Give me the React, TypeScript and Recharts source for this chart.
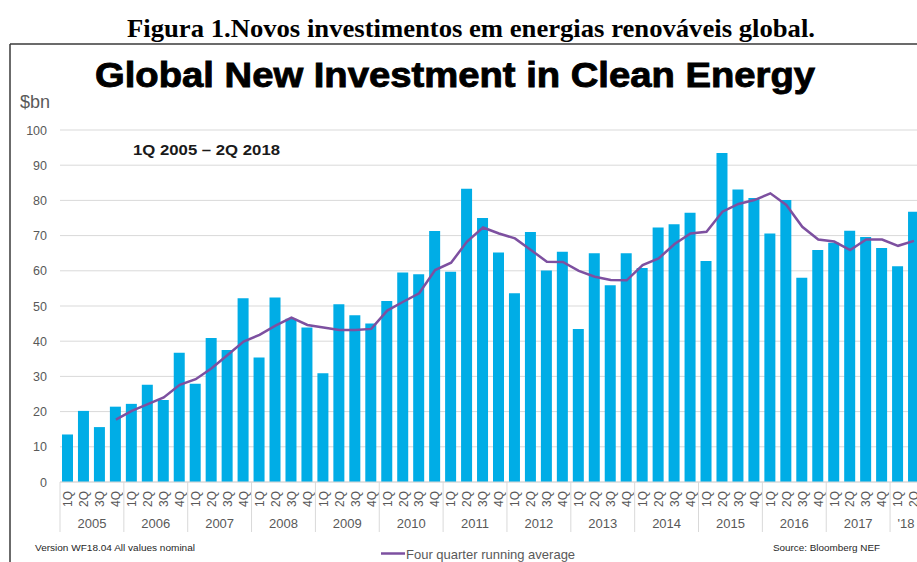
import React from "react";
import { ComposedChart, Bar, Line, XAxis, YAxis, CartesianGrid } from "recharts";

const YEARS = ["2005", "2006", "2007", "2008", "2009", "2010", "2011", "2012", "2013", "2014", "2015", "2016", "2017", "'18"];
const QUARTERS = ["1Q", "2Q", "3Q", "4Q"];
const INVESTMENT = [
  13.5, 20.2, 15.6, 21.4,
  22.2, 27.6, 23.3, 36.7,
  27.9, 40.9, 37.5, 52.2,
  35.4, 52.4, 46.4, 43.9,
  30.9, 50.5, 47.4, 45.0,
  51.4, 59.5, 59.0, 71.3,
  59.7, 83.3, 75.0, 65.2,
  53.6, 71.0, 60.1, 65.4,
  43.5, 65.0, 55.9, 65.0,
  60.8, 72.3, 73.2, 76.5,
  62.8, 93.5, 83.1, 80.7,
  70.6, 80.1, 58.0, 65.9,
  68.0, 71.4, 69.6, 66.5,
  61.3, 76.8,
];
const RUNNING_AVG = [
  null, null, null, 17.7,
  20.2, 22.1, 24.0, 27.6,
  29.2, 32.3, 36.1, 39.9,
  41.8, 44.4, 46.7, 44.6,
  43.9, 43.2, 43.2, 43.5,
  48.7, 51.2, 53.6, 60.2,
  62.3, 68.3, 72.3, 70.6,
  69.2, 65.9, 62.6, 62.5,
  60.0, 58.3, 57.4, 57.3,
  61.6, 63.5, 67.6, 70.6,
  71.1, 76.8, 79.0, 80.1,
  82.0, 78.7, 72.5, 68.9,
  68.3, 65.9, 68.9, 68.9,
  67.1, 68.5,
];
const Y_TICKS = [0, 10, 20, 30, 40, 50, 60, 70, 80, 90, 100];

const data = INVESTMENT.map((v, i) => ({
  key: `${YEARS[Math.floor(i / 4)]}-${QUARTERS[i % 4]}`,
  quarter: QUARTERS[i % 4],
  year: YEARS[Math.floor(i / 4)],
  investment: v,
  avg: RUNNING_AVG[i],
}));

const FONT = "'Liberation Sans', Arial, Helvetica, sans-serif";
const GRAY = "#595959";
const CHART_W = 922;
const CHART_H = 562;
const Y_AXIS_W = 60;
const BAND = (CHART_W - Y_AXIS_W) / data.length;

const QuarterTick = (props: any) => {
  const { x, y, payload } = props;
  const i = payload.index;
  const d = data[i];
  if (!d) return null;
  const isFirst = i % 4 === 0;
  const quartersInYear = data.filter((e) => e.year === d.year).length;
  return (
    <g>
      <text
        transform={`translate(${x + 4.3}, ${y + 9}) rotate(-90)`}
        textAnchor="end"
        fontSize={12}
        fontFamily={FONT}
        fill={GRAY}
      >
        {d.quarter}
      </text>
      {isFirst && (
        <>
          <line x1={x - BAND / 2} x2={x - BAND / 2} y1={y} y2={y + 50} stroke="#d9d9d9" strokeWidth={1} />
          <text
            x={x + ((quartersInYear - 1) * BAND) / 2}
            y={y + 46}
            textAnchor="middle"
            fontSize={13}
            fontFamily={FONT}
            fill={GRAY}
          >
            {d.year}
          </text>
        </>
      )}
    </g>
  );
};

const ValueTick = (props: any) => {
  const { x, y, payload } = props;
  return (
    <text x={x} y={y + 4.5} textAnchor="end" fontSize={12.5} fontFamily={FONT} fill={GRAY}>
      {payload.value}
    </text>
  );
};

export default function App() {
  return (
    <div
      style={{
        position: "fixed",
        left: 0,
        top: 0,
        width: 917,
        height: 562,
        overflow: "hidden",
        background: "#ffffff",
      }}
    >
      <div style={{ position: "absolute", left: 0, top: 0 }}>
        <ComposedChart
          width={CHART_W}
          height={CHART_H}
          data={data}
          margin={{ top: 130, right: 0, bottom: 0, left: 0 }}
          barSize={11}
        >
          <CartesianGrid vertical={false} stroke="#d9d9d9" strokeWidth={1} />
          <XAxis
            dataKey="key"
            height={80}
            interval={0}
            tickSize={0}
            tickMargin={0}
            tickLine={false}
            axisLine={{ stroke: "#d9d9d9" }}
            tick={<QuarterTick />}
          />
          <YAxis
            width={Y_AXIS_W}
            domain={[0, 100]}
            ticks={Y_TICKS}
            interval={0}
            tickSize={0}
            tickMargin={13}
            axisLine={false}
            tickLine={false}
            tick={<ValueTick />}
          />
          <Bar dataKey="investment" fill="#00ADE6" isAnimationActive={false} />
          <Line
            dataKey="avg"
            type="linear"
            stroke="#7D50A0"
            strokeWidth={2.5}
            dot={false}
            activeDot={false}
            isAnimationActive={false}
          />
        </ComposedChart>
      </div>
      <svg
        width={917}
        height={562}
        style={{ position: "absolute", left: 0, top: 0, pointerEvents: "none" }}
      >
        <text
          x={471}
          y={36.5}
          textAnchor="middle"
          fontFamily="'Liberation Serif', 'Times New Roman', serif"
          fontWeight="bold"
          fontSize={25}
          textLength={688}
          lengthAdjust="spacingAndGlyphs"
          fill="#000"
        >
          Figura 1.Novos investimentos em energias renováveis global.
        </text>
        <line x1={10} y1={44} x2={917} y2={44} stroke="#3a3a3a" strokeWidth={1.5} />
        <line x1={10} y1={44} x2={10} y2={562} stroke="#3a3a3a" strokeWidth={1.5} />
        <text
          x={455}
          y={87}
          textAnchor="middle"
          fontFamily={FONT}
          fontWeight="bold"
          fontSize={35}
          textLength={720}
          lengthAdjust="spacingAndGlyphs"
          fill="#000"
          stroke="#000"
          strokeWidth={0.9}
        >
          Global New Investment in Clean Energy
        </text>
        <text x={20} y={108} fontFamily={FONT} fontSize={18} fill={GRAY}>
          $bn
        </text>
        <text
          x={133}
          y={154.5}
          fontFamily={FONT}
          fontWeight="bold"
          fontSize={15.5}
          textLength={147}
          lengthAdjust="spacingAndGlyphs"
          fill="#1a1a1a"
        >
          1Q 2005 – 2Q 2018
        </text>
        <text
          x={35}
          y={550.5}
          fontFamily={FONT}
          fontSize={9.5}
          textLength={160}
          lengthAdjust="spacingAndGlyphs"
          fill="#262626"
        >
          Version WF18.04  All values nominal
        </text>
        <line x1={381} y1={553.5} x2={405} y2={553.5} stroke="#7D50A0" strokeWidth={2.5} />
        <text x={406} y={558.5} fontFamily={FONT} fontSize={13} fill={GRAY}>
          Four quarter running average
        </text>
        <text
          x={773}
          y={550.5}
          fontFamily={FONT}
          fontSize={9.5}
          textLength={107}
          lengthAdjust="spacingAndGlyphs"
          fill="#262626"
        >
          Source:  Bloomberg NEF
        </text>
      </svg>
    </div>
  );
}
